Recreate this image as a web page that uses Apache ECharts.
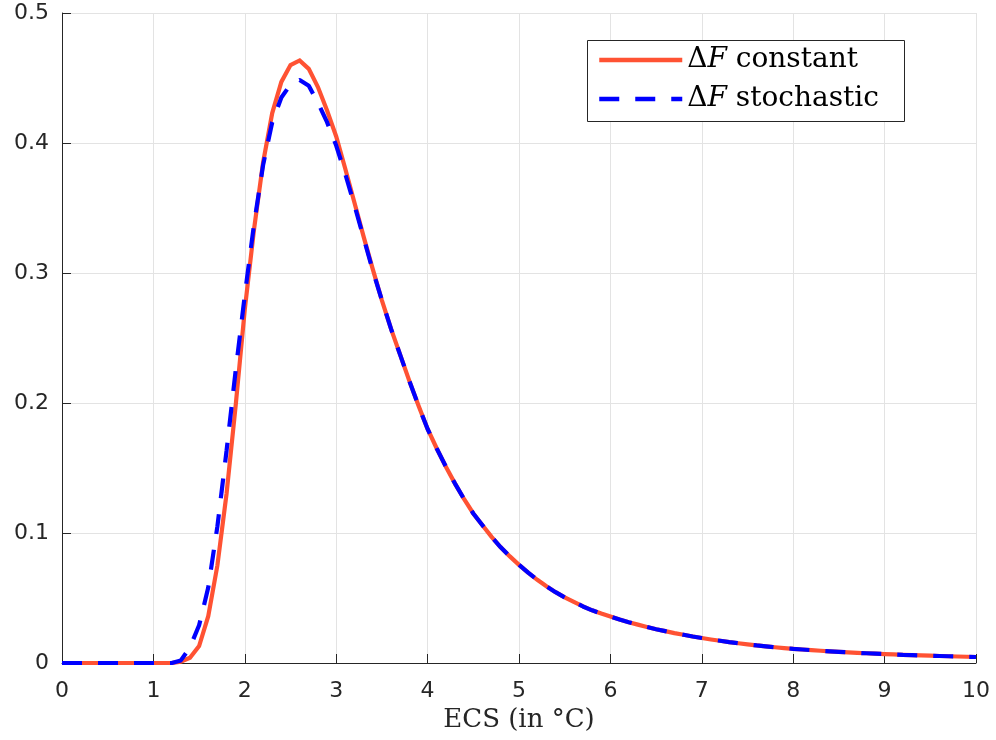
<!DOCTYPE html>
<html>
<head>
<meta charset="utf-8">
<script src="https://cdn.jsdelivr.net/npm/echarts@6/dist/echarts.min.js"></script>
<style>html,body{margin:0;padding:0;background:#fff}#c{width:996px;height:740px}</style>
</head>
<body>
<div id="c"></div>
<script>
const ecs = [0.0,0.1,0.2,0.3,0.4,0.5,0.6,0.7,0.8,0.9,1.0,1.1,1.2,1.3,1.4,1.5,1.6,1.7,1.8,1.9,
  2.0,2.1,2.2,2.3,2.4,2.5,2.6,2.7,2.8,2.9,3.0,3.1,3.2,3.3,3.4,3.5,3.6,3.7,3.8,3.9,
  4.0,4.1,4.2,4.3,4.4,4.5,4.6,4.7,4.8,4.9,5.0,5.1,5.2,5.3,5.4,5.5,5.6,5.7,5.8,5.9,
  6.0,6.1,6.2,6.3,6.4,6.5,6.6,6.7,6.8,6.9,7.0,7.1,7.2,7.3,7.4,7.5,7.6,7.7,7.8,7.9,
  8.0,8.1,8.2,8.3,8.4,8.5,8.6,8.7,8.8,8.9,9.0,9.1,9.2,9.3,9.4,9.5,9.6,9.7,9.8,9.9,10.0];

const constantPdf = [0,0,0,0,0,0,0,0,0,0,0,0,0,0.001,0.004,0.013,0.036,0.075,0.130,0.198,
  0.272,0.333,0.385,0.423,0.447,0.460,0.4635,0.457,0.443,0.425,0.405,0.380,0.354,0.328,0.303,0.279,0.257,0.237,0.217,0.198,
  0.180,0.165,0.151,0.138,0.126,0.115,0.106,0.097,0.089,0.082,0.0755,0.0695,0.064,0.059,0.0545,0.0505,0.047,0.0435,0.0405,0.038,
  0.0357,0.0335,0.0314,0.0295,0.0277,0.026,0.0245,0.023,0.0217,0.0204,0.0192,0.0181,0.0171,0.0161,0.0152,0.0143,0.0135,0.0128,0.0121,0.0115,
  0.0109,0.0104,0.0099,0.0094,0.009,0.0086,0.0082,0.0078,0.0075,0.0072,0.0069,0.0066,0.0063,0.0061,0.0058,0.0056,0.0054,0.0052,0.005,0.0048,0.0046];

const stochasticPdf = [0,0,0,0,0,0,0,0,0,0,0,0,0,0.002,0.012,0.029,0.058,0.105,0.163,0.225,
  0.283,0.337,0.383,0.416,0.435,0.445,0.4485,0.444,0.431,0.416,0.398,0.376,0.352,0.327,0.302,0.279,0.257,0.237,0.217,0.198,
  0.180,0.165,0.151,0.138,0.126,0.115,0.106,0.097,0.089,0.082,0.0755,0.0695,0.064,0.059,0.0545,0.0505,0.047,0.0435,0.0405,0.038,
  0.0357,0.0335,0.0314,0.0295,0.0277,0.026,0.0245,0.023,0.0217,0.0204,0.0192,0.0181,0.0171,0.0161,0.0152,0.0143,0.0135,0.0128,0.0121,0.0115,
  0.0109,0.0104,0.0099,0.0094,0.009,0.0086,0.0082,0.0078,0.0075,0.0072,0.0069,0.0066,0.0063,0.0061,0.0058,0.0056,0.0054,0.0052,0.005,0.0048,0.0046];

const seriesNames = ['constant', 'stochastic'];
const xTitle = 'ECS (in °C)';

const pairs = (ys) => ecs.map((x, i) => [x, ys[i]]);
const txt = '#262626';
const chart = echarts.init(document.getElementById('c'), null, {renderer: 'canvas'});
const serif = 'DejaVu Serif';
const lf = 28;
chart.setOption({
  animation: false,
  backgroundColor: '#fff',
  grid: {left: 62, right: 20, top: 13, bottom: 77, containLabel: false},
  xAxis: {
    type: 'value', min: 0, max: 10, interval: 1,
    name: xTitle, nameLocation: 'middle', nameGap: 44,
    nameTextStyle: {fontFamily: serif, fontSize: 26, color: txt},
    axisLine: {show: true, onZero: false, lineStyle: {color: txt, width: 1}},
    axisTick: {show: true, inside: true, length: 9, lineStyle: {color: txt, width: 1}},
    axisLabel: {fontFamily: 'DejaVu Sans', fontSize: 22, color: txt, margin: 17},
    splitLine: {show: true, lineStyle: {color: '#e3e3e3', width: 1}}
  },
  yAxis: {
    type: 'value', min: 0, max: 0.5, interval: 0.1,
    axisLine: {show: true, onZero: false, lineStyle: {color: txt, width: 1}},
    axisTick: {show: true, inside: true, length: 9, lineStyle: {color: txt, width: 1}},
    axisLabel: {fontFamily: 'DejaVu Sans', fontSize: 22, color: txt, margin: 13},
    splitLine: {show: true, lineStyle: {color: '#e3e3e3', width: 1}}
  },
  legend: {
    show: true, orient: 'vertical', left: 597, top: 45, padding: 0, z: 10,
    itemWidth: 83, itemHeight: 14, itemGap: 9,
    itemStyle: {opacity: 0, borderWidth: 0},
    lineStyle: {width: 4.5},
    formatter: (n) => '{d|Δ}{f|F}{t| ' + n + '}',
    textStyle: {
      color: '#000', lineHeight: 30,
      rich: {
        d: {fontFamily: serif, fontSize: lf, color: '#000', lineHeight: 30},
        f: {fontFamily: serif, fontStyle: 'italic', fontSize: lf, color: '#000', lineHeight: 30},
        t: {fontFamily: serif, fontSize: lf, color: '#000', lineHeight: 30}
      }
    },
    data: seriesNames
  },
  graphic: [{
    type: 'rect', z: 5, silent: true,
    shape: {x: 587.5, y: 40.5, width: 317, height: 81},
    style: {fill: '#fff', stroke: txt, lineWidth: 1}
  }],
  series: [
    {
      name: seriesNames[0], type: 'line', data: pairs(constantPdf),
      showSymbol: false, symbol: 'none', z: 2,
      lineStyle: {color: '#FF5233', width: 4.2, join: 'miter'},
      itemStyle: {color: '#FF5233'}
    },
    {
      name: seriesNames[1], type: 'line', data: pairs(stochasticPdf),
      showSymbol: false, symbol: 'none', z: 3,
      lineStyle: {color: '#0000FF', width: 4.2, type: [20, 16]},
      itemStyle: {color: '#0000FF'}
    }
  ]
});
</script>
</body>
</html>
